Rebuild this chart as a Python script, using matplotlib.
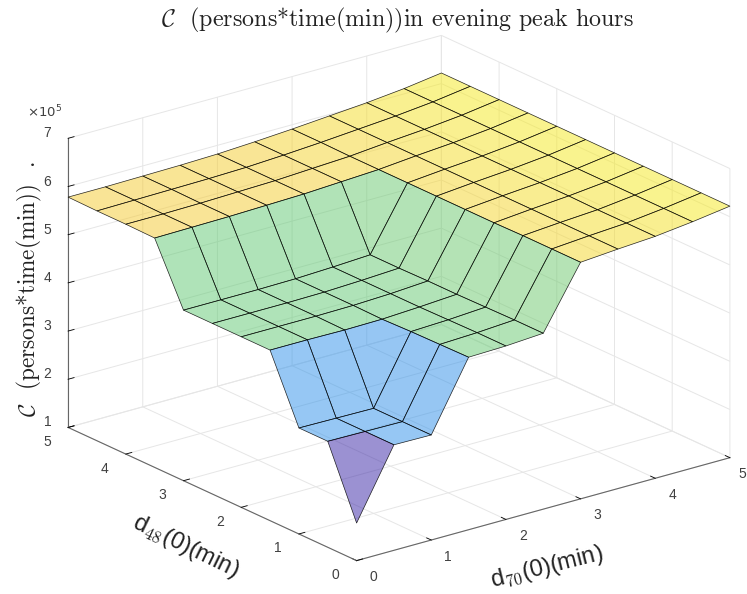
import numpy as np
import matplotlib
matplotlib.use('Agg')
import matplotlib.pyplot as plt
from matplotlib.colors import LinearSegmentedColormap, Normalize
from mpl_toolkits.mplot3d import proj3d

plt.rcParams['font.family'] = ['Liberation Sans', 'DejaVu Sans']
plt.rcParams['mathtext.fontset'] = 'cm'
plt.rcParams['axes.formatter.use_mathtext'] = True

# grid of the two delays (min)
d70 = [0, 0.5, 1, 1.5, 2, 2.5, 3, 3.5, 4, 4.5, 5]
d48 = [0, 0.5, 1, 1.5, 2, 2.5, 3, 3.5, 4, 4.5, 5]

# cost in units of 1e5, one row per d48 value
cost_d48_00 = [1.78, 3.19, 3.18, 4.58, 4.60, 4.65, 5.91, 5.97, 6.02, 6.11, 6.22]
cost_d48_05 = [3.20, 3.19, 3.18, 4.57, 4.60, 4.65, 5.91, 5.97, 6.02, 6.11, 6.22]
cost_d48_10 = [3.20, 3.19, 3.18, 4.56, 4.59, 4.64, 5.91, 5.97, 6.02, 6.11, 6.22]
cost_d48_15 = [4.54, 4.54, 4.53, 4.54, 4.58, 4.63, 5.90, 5.97, 6.03, 6.11, 6.22]
cost_d48_20 = [4.54, 4.54, 4.54, 4.55, 4.58, 4.63, 5.90, 5.97, 6.03, 6.11, 6.22]
cost_d48_25 = [4.54, 4.54, 4.54, 4.55, 4.58, 4.62, 5.90, 5.97, 6.03, 6.11, 6.22]
cost_d48_30 = [4.54, 4.54, 4.54, 4.55, 4.58, 4.62, 5.90, 5.97, 6.03, 6.11, 6.22]
cost_d48_35 = [5.76, 5.77, 5.78, 5.80, 5.82, 5.86, 5.90, 5.97, 6.03, 6.11, 6.22]
cost_d48_40 = [5.77, 5.77, 5.78, 5.80, 5.82, 5.86, 5.90, 5.97, 6.03, 6.11, 6.22]
cost_d48_45 = [5.77, 5.78, 5.79, 5.80, 5.82, 5.86, 5.91, 5.97, 6.03, 6.11, 6.22]
cost_d48_50 = [5.78, 5.78, 5.79, 5.80, 5.82, 5.86, 5.91, 5.97, 6.03, 6.11, 6.22]

z = np.array([cost_d48_00, cost_d48_05, cost_d48_10, cost_d48_15, cost_d48_20, cost_d48_25,
              cost_d48_30, cost_d48_35, cost_d48_40, cost_d48_45, cost_d48_50])
x, y = np.meshgrid(d70, d48)

xy_ticks = [0, 1, 2, 3, 4, 5]
z_ticks = [1, 2, 3, 4, 5, 6, 7]

# parula-like colours, drawn half transparent
cm = LinearSegmentedColormap.from_list('parula_ish', [
    (0.00, (0.22, 0.14, 0.65)),
    (0.32, (0.18, 0.57, 0.92)),
    (0.62, (0.37, 0.79, 0.45)),
    (0.90, (0.96, 0.79, 0.18)),
    (1.00, (0.96, 0.95, 0.10))])
fc = cm(Normalize(1.78, 6.22)(z))
fc[..., 3] = 0.5

fig = plt.figure(figsize=(7.47, 5.94), dpi=100)
ax = fig.add_subplot(projection='3d', proj_type='ortho')
ax.set_position([0.1258, -0.0152, 594 / 747, 1])
ax.set_box_aspect((1, 1, 0.656), zoom=1.202)
ax.view_init(elev=20.9, azim=-127.7)

surf = ax.plot_surface(x, y, z, facecolors=fc, rstride=1, cstride=1, shade=False, linewidth=0.5)
surf.set_edgecolor((0, 0, 0, 0.85))
surf.set_clip_on(False)

ax.set_xlim(0, 5)
ax.set_ylim(0, 5)
ax.set_zlim(1, 7)
ax.set_xticks(xy_ticks)
ax.set_yticks(xy_ticks)
ax.set_zticks(z_ticks)
ax.set_xticklabels([])
ax.set_yticklabels([])
ax.set_zticklabels([])

for a in [ax.xaxis, ax.yaxis, ax.zaxis]:
    a.set_pane_color((1, 1, 1, 0))
    a.pane.set_edgecolor('none')
    a.line.set_color('#666666')
    a.line.set_linewidth(0.8)
    a._axinfo['grid'].update(color='#e6e6e6', linewidth=0.7)
    a._axinfo['tick'].update(inward_factor=0, outward_factor=0.2)
    a._axinfo['tick']['linewidth'] = {True: 0.6, False: 0.5}
    a._axinfo['tick']['color'] = '#444444'


def tick_label(px, py, pz, text, dx, dy):
    # project the tick, then put its label at a pixel offset from it
    tx, ty, _ = proj3d.proj_transform(px, py, pz, ax.get_proj())
    ax.annotate(text, xy=(tx, ty), xytext=(dx, dy), textcoords='offset pixels', ha='center', va='center',
                fontsize=10, color='#404040', annotation_clip=False)


for t in xy_ticks:
    # the last label would fall off the right edge
    tick_label(t, 0, 1, str(t), 12 if t == 5 else 17, -16.5)
    tick_label(0, t, 1, str(t), -21, -14.5)
for t in z_ticks:
    tick_label(0, 5, t, str(t), -20.5, 5)

fig.text(0.5316, 0.966, r'$\mathcal{C}$  (persons*time(min))in evening peak hours',
         ha='center', va='center', fontsize=17.3, color='#222222', family='cmr10')
fig.text(0.036, 0.8115, r'$\times 10^5$', fontsize=9.5, ha='left', va='center', color='#404040',
         math_fontfamily='dejavusans')
fig.text(0.04, 0.513, r'$\mathcal{C}$  (persons*time(min))  .', rotation=90,
         ha='center', va='center', fontsize=16.7, color='#222222', family='cmr10')
fig.text(0.249, 0.079, r'd$_{\mathsf{48}}$(0)(min)', rotation=-26, ha='center', va='center',
         fontsize=17, color='#222222')
fig.text(0.732, 0.045, r'd$_{\mathsf{70}}$(0)(min)', rotation=14, ha='center', va='center',
         fontsize=17, color='#222222')

fig.savefig('out.png', dpi=100)
